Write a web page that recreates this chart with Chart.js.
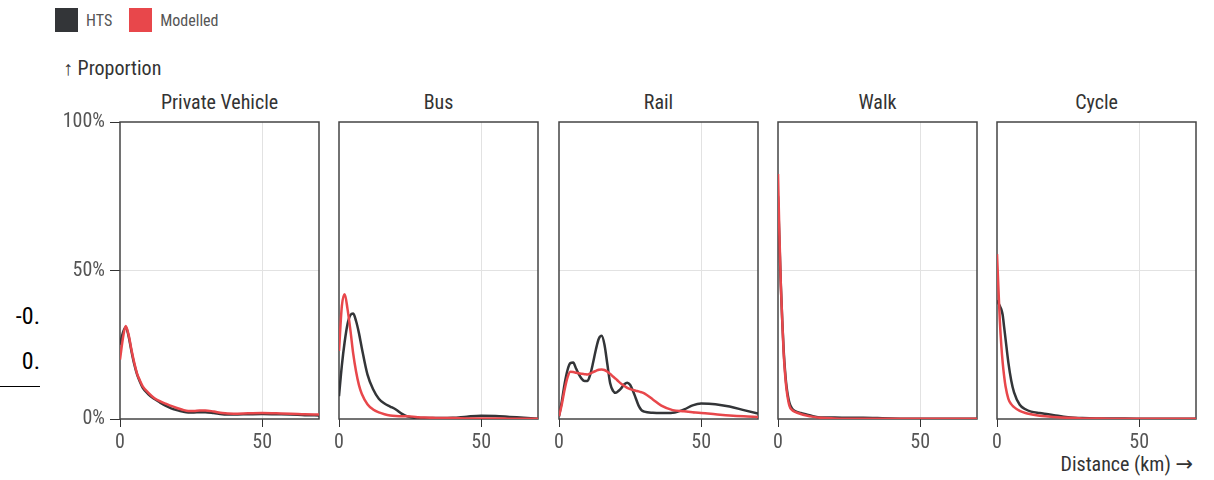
<!DOCTYPE html>
<html>
<head>
<meta charset="utf-8">
<title>Trip distance distribution by mode</title>
<script src="https://cdn.jsdelivr.net/npm/chart.js@4.4.0/dist/chart.umd.min.js"></script>
<style>
  html, body { margin: 0; padding: 0; background: #fff; }
  body {
    width: 1214px; height: 480px; position: relative; overflow: hidden;
    font-family: "Liberation Sans Narrow", "Arial Narrow", "Roboto Condensed", "Liberation Sans", sans-serif;
  }
  .abs { position: absolute; white-space: nowrap; }
  .legend { left: 55px; top: 8px; display: flex; align-items: center; font-size: 16px; color: #555; }
  .legend .sw { width: 23px; height: 24px; margin-right: 8px; }
  .legend .item { display: flex; align-items: center; margin-right: 17px; }
  .axis-title { font-size: 20px; line-height: 20px; color: #333; }
  .arrow { font-family: "DejaVu Sans", sans-serif; font-size: 21px; }
  .panel-title { font-size: 20px; line-height: 20px; color: #333; text-align: center; }
  .stray { font-size: 24px; line-height: 24px; color: #000; text-align: right; width: 40px; }
  canvas { position: absolute; }
</style>
</head>
<body>

<div class="abs legend">
  <div class="item"><div class="sw" style="background:#333538"></div><span>HTS</span></div>
  <div class="item"><div class="sw" style="background:#e8474b"></div><span>Modelled</span></div>
</div>

<div class="abs axis-title" style="left:63px; top:58px;">↑ Proportion</div>
<div class="abs axis-title" style="right:21px; top:454px;">Distance (km) <span class="arrow">→</span></div>

<div class="abs stray" style="left:0; top:304px;">-0.</div>
<div class="abs stray" style="left:0; top:349px;">0.</div>
<div class="abs" style="left:0; top:386px; width:40px; height:1px; background:#000;"></div>

<div id="root"></div>

<script>
// ---- Data: share of trips (%) by trip distance (km) ----
const seriesNames = ['HTS', 'Modelled'];
const modeNames = ['Private Vehicle', 'Bus', 'Rail', 'Walk', 'Cycle'];

const privateKm       = [0, 1, 2, 3, 4, 5, 6, 7, 8, 10, 12, 14, 16, 18, 20, 22, 24, 26, 28, 30, 33, 36, 40, 45, 50, 55, 60, 65, 70];
const privateHts      = [25, 29, 31, 28, 23, 18.5, 15, 12.5, 10.5, 8.3, 6.8, 5.6, 4.5, 3.6, 3.0, 2.5, 2.2, 2.2, 2.3, 2.3, 2.0, 1.6, 1.5, 1.6, 1.7, 1.6, 1.5, 1.3, 1.2];
const privateModelled = [20, 27, 31.3, 28.5, 23.5, 19, 15.3, 13, 11, 8.8, 7.1, 6.0, 5.2, 4.4, 3.7, 3.1, 2.7, 2.7, 2.9, 2.9, 2.5, 2.0, 1.8, 1.9, 2.0, 1.9, 1.8, 1.6, 1.5];

const busKm       = [0, 1, 2, 3, 4, 5, 6, 7, 8, 10, 12, 14, 16, 18, 20, 22, 24, 26, 28, 30, 33, 36, 40, 45, 50, 55, 60, 65, 70];
const busHts      = [7.7, 18, 26, 32, 35, 35.5, 33, 29, 24, 15, 10, 6.8, 5.2, 4.2, 3.2, 1.8, 0.9, 0.5, 0.3, 0.3, 0.3, 0.3, 0.4, 0.8, 1.1, 1.0, 0.7, 0.4, 0.1];
const busModelled = [22.9, 38, 42, 37, 30, 22, 16, 11.5, 8.5, 5, 3.2, 2.2, 1.6, 1.2, 1.0, 0.9, 0.9, 0.8, 0.6, 0.5, 0.4, 0.3, 0.3, 0.2, 0.2, 0.2, 0.1, 0.1, 0.1];

const railKm       = [0, 1, 2, 3, 4, 5, 6, 7, 8, 9, 10, 11, 12, 13, 14, 15, 16, 17, 18, 19, 20, 21, 22, 23, 24, 25, 26, 27, 28, 29, 30, 33, 36, 40, 44, 47, 50, 55, 60, 65, 70];
const railHts      = [0.9, 6, 12, 16.5, 18.8, 19, 17, 15, 13.5, 12.8, 12.8, 15, 19, 23.5, 27, 28, 25, 18.5, 12, 9.5, 8.8, 9.5, 10.5, 11.7, 12.2, 11.5, 9.5, 7, 4.5, 3, 2.5, 2.1, 2.0, 2.1, 3.2, 4.6, 5.2, 5.0, 4.2, 3.0, 1.8];
const railModelled = [0.9, 5, 10, 14, 15.9, 15.8, 15.6, 15.4, 15.2, 15.1, 15, 15.3, 15.8, 16.2, 16.6, 16.7, 16.5, 15.9, 15.2, 14.3, 13.5, 12.6, 11.8, 11.1, 10.5, 10.1, 9.8, 9.5, 9.3, 9.0, 8.6, 6.6, 4.5, 3.0, 2.6, 2.3, 2.0, 1.6, 1.2, 0.9, 0.7];

const walkKm       = [0, 0.5, 1, 1.5, 2, 2.5, 3, 4, 5, 6, 8, 10, 12, 15, 20, 25, 30, 35, 40, 50, 60, 70];
const walkHts      = [75, 60, 45, 33, 23, 16, 11, 5.5, 3.5, 2.7, 2.0, 1.5, 1.0, 0.5, 0.5, 0.4, 0.4, 0.3, 0.2, 0.1, 0.1, 0.1];
const walkModelled = [82.5, 62, 45, 33, 22, 15, 10, 4.5, 3, 2.4, 1.7, 1.2, 0.8, 0.4, 0.2, 0.1, 0.1, 0.05, 0.05, 0.05, 0.05, 0.05];

const cycleKm       = [0, 0.5, 1, 1.5, 2, 2.5, 3, 4, 5, 6, 8, 10, 12, 15, 18, 20, 25, 30, 35, 40, 50, 60, 70];
const cycleHts      = [40, 39, 38, 37, 35, 31, 27, 19, 13, 9, 4.8, 3.3, 2.5, 2.0, 1.6, 1.3, 0.6, 0.3, 0.2, 0.2, 0.1, 0.1, 0.1];
const cycleModelled = [55.5, 44, 33, 25, 19, 14.5, 11, 6.8, 5, 4, 2.7, 2.0, 1.6, 1.1, 0.85, 0.7, 0.4, 0.2, 0.15, 0.1, 0.1, 0.1, 0.1];

// Axis ticks
const xTickValues = [0, 50];
const yTickValues = [0, 50, 100];

// ---- Styling / layout ----
const HTS_COLOR = '#333538';
const MODELLED_COLOR = '#e8474b';
const FONT_FAMILY = '"Liberation Sans Narrow", "Arial Narrow", "Roboto Condensed", "Liberation Sans", sans-serif';
const PANEL_LEFTS = [120, 339, 559, 778, 997];
const PANEL_W = 199, PANEL_TOP = 122, PANEL_H = 297;
const Y_AXIS_W = 60, X_AXIS_H = 45, PAD_TOP = 20, PAD_RIGHT = 10;

const panels = [
  { km: privateKm, hts: privateHts, mod: privateModelled },
  { km: busKm,     hts: busHts,     mod: busModelled },
  { km: railKm,    hts: railHts,    mod: railModelled },
  { km: walkKm,    hts: walkHts,    mod: walkModelled },
  { km: cycleKm,   hts: cycleHts,   mod: cycleModelled },
];

// Outline around each facet's plotting area
const framePlugin = {
  id: 'facetFrame',
  beforeDatasetsDraw(chart) {
    const { ctx, chartArea: a } = chart;
    ctx.save();
    ctx.strokeStyle = '#444';
    ctx.lineWidth = 1.5;
    ctx.strokeRect(a.left, a.top, a.right - a.left, a.bottom - a.top);
    ctx.restore();
  }
};

const gridColor = (ctx) => (ctx.tick && ctx.tick.value === 50) ? '#e2e2e2' : 'rgba(0,0,0,0)';

const root = document.getElementById('root');

panels.forEach((p, i) => {
  const first = i === 0;

  const title = document.createElement('div');
  title.className = 'abs panel-title';
  title.style.left = PANEL_LEFTS[i] + 'px';
  title.style.top = (PANEL_TOP - 30) + 'px';
  title.style.width = PANEL_W + 'px';
  title.textContent = modeNames[i];
  root.appendChild(title);

  const canvas = document.createElement('canvas');
  const w = Y_AXIS_W + PANEL_W + PAD_RIGHT;
  const h = PAD_TOP + PANEL_H + X_AXIS_H;
  canvas.width = w; canvas.height = h;
  canvas.style.width = w + 'px'; canvas.style.height = h + 'px';
  canvas.style.left = (PANEL_LEFTS[i] - Y_AXIS_W) + 'px';
  canvas.style.top = (PANEL_TOP - PAD_TOP) + 'px';
  root.appendChild(canvas);

  const line = (label, values, color, order) => ({
    label,
    data: p.km.map((x, k) => ({ x, y: values[k] })),
    borderColor: color,
    backgroundColor: color,
    borderWidth: 2.5,
    pointRadius: 0,
    fill: false,
    cubicInterpolationMode: 'monotone',
    order
  });

  new Chart(canvas, {
    type: 'line',
    data: {
      datasets: [
        line(seriesNames[1], p.mod, MODELLED_COLOR, 0),
        line(seriesNames[0], p.hts, HTS_COLOR, 1)
      ]
    },
    options: {
      responsive: false,
      animation: false,
      devicePixelRatio: 1,
      events: [],
      layout: { padding: { top: PAD_TOP, right: PAD_RIGHT, left: 0, bottom: 0 } },
      plugins: { legend: { display: false }, tooltip: { enabled: false } },
      scales: {
        x: {
          type: 'linear', min: 0, max: 70,
          afterBuildTicks: (s) => { s.ticks = xTickValues.map(v => ({ value: v })); },
          afterFit: (s) => { s.height = X_AXIS_H; },
          border: { display: false },
          grid: { color: gridColor, lineWidth: 1, tickColor: '#333', tickLength: 8, drawTicks: true },
          ticks: { color: '#555', padding: 4, maxRotation: 0, font: { family: FONT_FAMILY, size: 20 } }
        },
        y: {
          type: 'linear', min: 0, max: 100,
          afterBuildTicks: (s) => { s.ticks = yTickValues.map(v => ({ value: v })); },
          afterFit: (s) => { s.width = Y_AXIS_W; },
          border: { display: false },
          grid: { color: gridColor, lineWidth: 1, tickColor: '#333', tickLength: 10, drawTicks: first },
          ticks: { display: first, color: '#555', padding: 5, font: { family: FONT_FAMILY, size: 20 },
                   callback: (v) => v + '%' }
        }
      }
    },
    plugins: [framePlugin]
  });
});
</script>
</body>
</html>
